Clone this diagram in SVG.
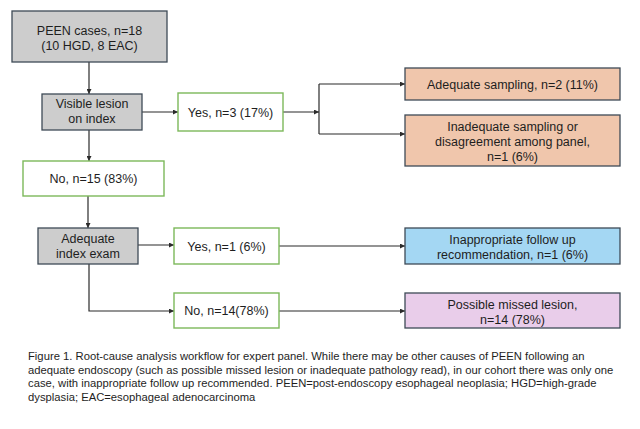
<svg xmlns="http://www.w3.org/2000/svg" width="640" height="429" viewBox="0 0 640 429">
<defs>
<marker id="ah" viewBox="0 0 6 6" refX="6" refY="3" markerWidth="5" markerHeight="5" markerUnits="userSpaceOnUse" orient="auto"><path d="M0,0 L6,3 L0,6 z" fill="#2b2b2b"/></marker>
<style>
text{font-family:"Liberation Sans",Arial,sans-serif;fill:#1e1e1e}
.t{font-size:12.5px;text-anchor:middle}
.cap{font-size:11.25px}
.gray{fill:#cdcdcd;stroke:#3e4a56;stroke-width:1.3}
.green{fill:#ffffff;stroke:#7cb85a;stroke-width:1.4}
.orange{fill:#f0c6ac;stroke:#3e4a56;stroke-width:1.3}
.blue{fill:#a4d7f3;stroke:#3e4a56;stroke-width:1.3}
.pink{fill:#e9cdea;stroke:#3e4a56;stroke-width:1.3}
.c{fill:none;stroke:#2b2b2b;stroke-width:1.2}
</style>
</defs>
<rect width="640" height="429" fill="#ffffff"/>
<g id="connectors">
<path class="c" d="M89,62 V94" marker-end="url(#ah)"/>
<path class="c" d="M142,112 H178" marker-end="url(#ah)"/>
<path class="c" d="M283,112 H319" marker-end="url(#ah)"/>
<path class="c" d="M319,84 V134"/>
<path class="c" d="M319,84 H405" marker-end="url(#ah)"/>
<path class="c" d="M319,134 H405" marker-end="url(#ah)"/>
<path class="c" d="M89,130 V161" marker-end="url(#ah)"/>
<path class="c" d="M88,196 V228" marker-end="url(#ah)"/>
<path class="c" d="M138,245 H174" marker-end="url(#ah)"/>
<path class="c" d="M279,246 H405" marker-end="url(#ah)"/>
<path class="c" d="M89,264 V311 H174" marker-end="url(#ah)"/>
<path class="c" d="M279,311 H405" marker-end="url(#ah)"/>
</g>
<g id="peen">
<rect class="gray" x="12" y="11" width="155" height="51"/>
<text class="t" x="89.5" y="34.5">PEEN cases, n=18</text>
<text class="t" x="89.5" y="49.5">(10 HGD, 8 EAC)</text>
</g>
<g id="visible">
<rect class="gray" x="42" y="94" width="100" height="36"/>
<text class="t" x="92" y="107.5">Visible lesion</text>
<text class="t" x="92" y="122.5">on index</text>
</g>
<g id="yes3">
<rect class="green" x="178" y="93" width="105" height="38"/>
<text class="t" x="230.5" y="116.5">Yes, n=3 (17%)</text>
</g>
<g id="adeqsamp">
<rect class="orange" x="405" y="68" width="215" height="32"/>
<text class="t" x="512.5" y="88.5">Adequate sampling, n=2 (11%)</text>
</g>
<g id="inadeq">
<rect class="orange" x="405" y="115" width="215" height="51"/>
<text class="t" x="512.5" y="130.5">Inadequate sampling or</text>
<text class="t" x="512.5" y="145.5">disagreement among panel,</text>
<text class="t" x="512.5" y="160.5">n=1 (6%)</text>
</g>
<g id="no15">
<rect class="green" x="23" y="161" width="141" height="35"/>
<text class="t" x="93.5" y="183">No, n=15 (83%)</text>
</g>
<g id="adeqexam">
<rect class="gray" x="38" y="228" width="100" height="36"/>
<text class="t" x="88" y="242.5">Adequate</text>
<text class="t" x="88" y="257.5">index exam</text>
</g>
<g id="yes1">
<rect class="green" x="174" y="228" width="105" height="36"/>
<text class="t" x="226.5" y="250.5">Yes, n=1 (6%)</text>
</g>
<g id="inapp">
<rect class="blue" x="405" y="228" width="215" height="36"/>
<text class="t" x="512.5" y="243.5">Inappropriate follow up</text>
<text class="t" x="512.5" y="258.5">recommendation, n=1 (6%)</text>
</g>
<g id="no14">
<rect class="green" x="174" y="293" width="105" height="35"/>
<text class="t" x="226.5" y="315">No, n=14(78%)</text>
</g>
<g id="missed">
<rect class="pink" x="405" y="293" width="215" height="35"/>
<text class="t" x="512.5" y="308.5">Possible missed lesion,</text>
<text class="t" x="512.5" y="323.5">n=14 (78%)</text>
</g>
<g id="caption">
<text class="cap" x="28" y="360">Figure 1. Root-cause analysis workflow for expert panel. While there may be other causes of PEEN following an</text>
<text class="cap" x="28" y="373.5">adequate endoscopy (such as possible missed lesion or inadequate pathology read), in our cohort there was only one</text>
<text class="cap" x="28" y="387">case, with inappropriate follow up recommended. PEEN=post-endoscopy esophageal neoplasia; HGD=high-grade</text>
<text class="cap" x="28" y="400.5">dysplasia; EAC=esophageal adenocarcinoma</text>
</g>
</svg>
